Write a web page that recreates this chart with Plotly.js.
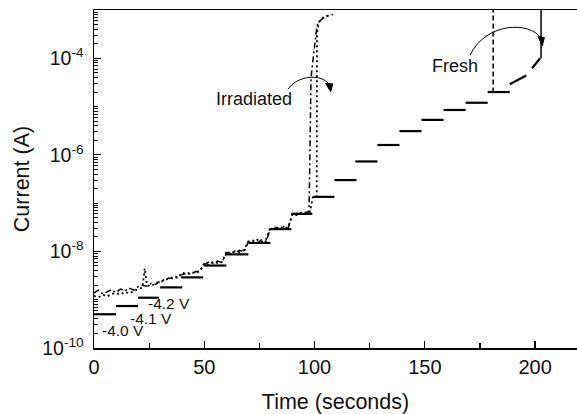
<!DOCTYPE html>
<html><head><meta charset="utf-8">
<script src="https://cdn.plot.ly/plotly-3.0.1.min.js"></script>
<style>html,body{margin:0;padding:0;background:#fff}#chart{width:577px;height:414px}</style>
</head><body><div id="chart"></div>
<script>
// ---- Fresh device: constant-voltage stress steps (time in s, current in A)
const freshStepStart   = [0,10,20,30,39.5,50,60,70,79.5,89.5,99.5,109,118.5,128.5,138.5,148.5,158.5,168.5,178.5];
const freshStepEnd     = [10,20,29.5,40,49.5,60,70,80,89.5,99,109,119,128.5,138.5,148.5,158.5,168.5,178.5,188.5];
const freshStepCurrent = [5.0e-10,7.4e-10,1.1e-9,1.8e-9,2.9e-9,5.1e-9,8.7e-9,1.5e-8,2.9e-8,6.0e-8,1.35e-7,3.0e-7,7.3e-7,1.6e-6,3.1e-6,5.3e-6,8.5e-6,1.2e-5,2.0e-5];
const freshRampTime    = [188.5,196,null,198.6,202.3];
const freshRampCurrent = [2.9e-5,4.4e-5,null,6.2e-5,1.0e-4];
const freshBreakTime    = [202.7,202.7];
const freshBreakCurrent = [1.0e-4,1.0e-3];
const fresh2BreakTime    = [181,181];
const fresh2BreakCurrent = [1.95e-5,1.0e-3];

// ---- Irradiated device A (dash-dot)
const irrATime = [0,2,4,6,8,10,12,14,16,18,20,22,24,26,28,30,32,34,36,38,40,42,44,46,48,50,52,54,56,58,60,62,64,66,68,70,72,74,76,78,80,82,84,86,88,90,92,94,96,97.5,98.4,99.2,100.2,101.1,102.5,105.2,108.4];
const irrACurrent = [1.38e-9,1.58e-9,1.32e-9,1.48e-9,1.62e-9,1.41e-9,1.66e-9,1.51e-9,1.74e-9,1.58e-9,1.86e-9,2.0e-9,1.91e-9,2.19e-9,2.09e-9,2.40e-9,2.63e-9,2.82e-9,2.69e-9,3.16e-9,3.31e-9,3.55e-9,3.39e-9,3.80e-9,3.98e-9,5.37e-9,6.03e-9,5.62e-9,6.31e-9,5.89e-9,9.12e-9,1.0e-8,9.33e-9,1.05e-8,9.77e-9,1.58e-8,1.70e-8,1.51e-8,1.74e-8,1.62e-8,2.95e-8,3.16e-8,2.88e-8,3.24e-8,3.02e-8,5.75e-8,6.17e-8,5.89e-8,6.46e-8,6.6e-8,4.0e-5,9.0e-5,2.0e-4,4.8e-4,6.0e-4,7.4e-4,8.1e-4];

// ---- Irradiated device B (dotted)
const irrBTime = [0,2,4,6,8,10,12,14,16,18,20,22,23,24,26,28,30,32,34,36,38,40,42,44,46,48,50,52,54,56,58,60,62,64,66,68,70,72,74,76,78,80,82,84,86,88,90,92,94,96,98,99.2,100,100.8,101.0,101.1,102,104,107];
const irrBCurrent = [1.20e-9,1.12e-9,1.26e-9,1.17e-9,1.32e-9,1.38e-9,1.29e-9,1.45e-9,1.35e-9,1.51e-9,1.66e-9,1.78e-9,4.47e-9,2.0e-9,1.91e-9,2.24e-9,2.34e-9,2.51e-9,2.75e-9,2.95e-9,2.82e-9,3.63e-9,3.39e-9,3.72e-9,3.55e-9,3.89e-9,5.62e-9,5.25e-9,6.17e-9,5.75e-9,6.03e-9,9.55e-9,8.91e-9,1.02e-8,9.55e-9,1.07e-8,1.62e-8,1.55e-8,1.74e-8,1.58e-8,1.78e-8,3.09e-8,2.82e-8,3.31e-8,3.02e-8,3.16e-8,6.03e-8,5.62e-8,6.31e-8,5.89e-8,6.61e-8,1.32e-7,1.38e-7,1.35e-7,1.35e-7,3.16e-4,5.6e-4,7.1e-4,7.9e-4];

// ---- Axis ticks
const xTickVals = [0,50,100,150,200];
const xMinorVals = [25,75,125,175];
const yTickVals = [1e-10,1e-8,1e-6,1e-4];
const yTickText = ['10<sup>-10</sup>','10<sup>-8</sup>','10<sup>-6</sup>','10<sup>-4</sup>'];

// ---- Text labels (time, log10 current)
const labelText = ['-4.0 V','-4.1 V','-4.2 V','Irradiated','Fresh'];
const labelT    = [13.1,25.8,34.0,72.5,163.7];
const labelLogI = [-9.63,-9.38,-9.07,-4.85,-4.15];
const labelSize = [15.5,15.5,15.5,18,18];

const X_RANGE = [0,219], Y_RANGE = [-10,-3];

// build step segments
const stepX = [], stepY = [];
for (let i = 0; i < freshStepStart.length; i++) {
  stepX.push(freshStepStart[i], freshStepEnd[i], null);
  stepY.push(freshStepCurrent[i], freshStepCurrent[i], null);
}

// minor ticks: 2..9 within each decade plus the unlabeled odd decades
const minorY = [];
for (let e = -10; e < -3; e++) {
  for (let m = 2; m <= 9; m++) minorY.push(m * Math.pow(10, e));
  if ((e + 10) % 2 === 1) minorY.push(Math.pow(10, e));
}
minorY.push(1e-3);

// curved arrows (time, log10 current) -> paper coords
function px(t){ return (t - X_RANGE[0]) / (X_RANGE[1] - X_RANGE[0]); }
function py(l){ return (l - Y_RANGE[0]) / (Y_RANGE[1] - Y_RANGE[0]); }
function P(t,l){ return px(t).toFixed(4) + ',' + py(l).toFixed(4); }
const arcIrr = 'M' + P(88.0,-4.64) + ' C' + P(91.6,-4.38) + ' ' + P(102.5,-4.29) + ' ' + P(106.6,-4.54);
const headIrr = 'M' + P(105.0,-4.52) + ' L' + P(108.3,-4.53) + ' L' + P(107.3,-4.69) + ' Z';
const arcFr = 'M' + P(170.5,-3.94) + ' C' + P(177.3,-3.26) + ' ' + P(197.7,-3.22) + ' ' + P(202.7,-3.59);
const headFr = 'M' + P(201.3,-3.55) + ' L' + P(204.2,-3.57) + ' L' + P(203.3,-3.74) + ' Z';

const FONT = '"Liberation Sans", Arial, sans-serif';
const INK = '#111';
const line = (w, dash) => ({color:'#000', width:w, dash:dash});

const traces = [
  {x: irrBTime, y: irrBCurrent, mode:'lines', line: line(1.8,'2px,3px')},
  {x: irrATime, y: irrACurrent, mode:'lines', line: line(1.5,'6px,3px,2px,3px')},
  {x: stepX, y: stepY, mode:'lines', line: line(2.2,'solid'), connectgaps:false},
  {x: freshRampTime, y: freshRampCurrent, mode:'lines', line: line(2.2,'solid'), connectgaps:false},
  {x: freshBreakTime, y: freshBreakCurrent, mode:'lines', line: line(1.5,'solid')},
  {x: fresh2BreakTime, y: fresh2BreakCurrent, mode:'lines', line: line(1.5,'5px,3px')}
];

const annotations = labelText.map((t,i) => ({
  x: labelT[i], y: labelLogI[i], xref:'x', yref:'y', text: t, showarrow:false,
  font:{family:FONT, size:labelSize[i], color:INK}, xanchor:'center', yanchor:'middle'
}));

const layout = {
  width:577, height:414,
  margin:{l:94, r:0, t:10, b:66},
  paper_bgcolor:'#fff', plot_bgcolor:'#fff',
  showlegend:false,
  font:{family:FONT, size:18, color:INK},
  xaxis:{
    range:X_RANGE, tickmode:'array', tickvals:xTickVals,
    ticks:'inside', ticklen:7, tickwidth:1.2, tickcolor:'#000',
    minor:{tickmode:'array', tickvals:xMinorVals, ticks:'inside', ticklen:5, tickwidth:1.2, tickcolor:'#000'},
    showline:true, linewidth:1.5, linecolor:'#000', mirror:true,
    showgrid:false, zeroline:false,
    tickfont:{family:FONT, size:20, color:INK},
    title:{text:'Time (seconds)', font:{family:FONT, size:21.5, color:INK}, standoff:18}
  },
  yaxis:{
    type:'log', range:Y_RANGE, tickmode:'array', tickvals:yTickVals, ticktext:yTickText,
    ticks:'inside', ticklen:7, tickwidth:1.2, tickcolor:'#000', ticklabelstandoff:5,
    minor:{tickmode:'array', tickvals:minorY, ticks:'inside', ticklen:4, tickwidth:1, tickcolor:'#000'},
    showline:true, linewidth:1.5, linecolor:'#000',
    showgrid:false, zeroline:false,
    tickfont:{family:FONT, size:19.5, color:INK},
    title:{text:'Current (A)', font:{family:FONT, size:21.5, color:INK}, standoff:6}
  },
  annotations: annotations,
  shapes:[
    {type:'path', xref:'paper', yref:'paper', path:arcIrr, line:{color:'#000', width:1}},
    {type:'path', xref:'paper', yref:'paper', path:headIrr, line:{color:'#000', width:1}, fillcolor:'#000'},
    {type:'path', xref:'paper', yref:'paper', path:arcFr, line:{color:'#000', width:1}},
    {type:'path', xref:'paper', yref:'paper', path:headFr, line:{color:'#000', width:1}, fillcolor:'#000'}
  ]
};

Plotly.newPlot('chart', traces, layout, {staticPlot:true, displayModeBar:false});
</script>
</body></html>
